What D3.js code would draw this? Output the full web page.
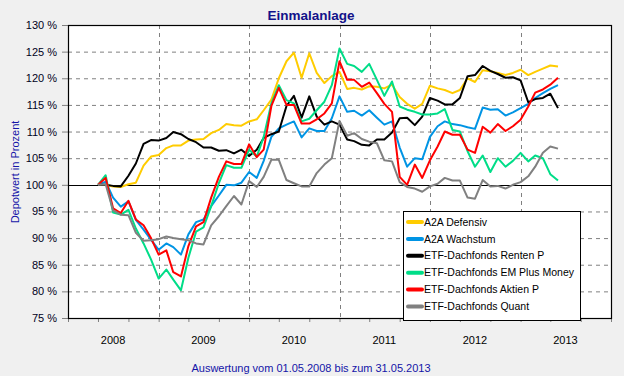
<!DOCTYPE html>
<html>
<head>
<meta charset="utf-8">
<script src="https://cdn.jsdelivr.net/npm/d3@7"></script>
<style>
  body { margin: 0; background: #f0f0f0; }
  svg { display: block; font-family: Arial, "Liberation Sans", sans-serif; }
</style>
</head>
<body>
<svg id="chart" width="624" height="376"></svg>
<script>
// Monatswerte 01.05.2008 ... 31.05.2013 (62 Punkte)
const months = d3.timeMonth.range(new Date(2008, 4, 1), new Date(2013, 5, 2));

const defensiv = [100, 100, 99.7, 99.6, 100.1, 100.4, 103.6, 105.3, 105.6, 106.9, 107.4, 107.4, 108.3, 108.5, 108.6, 109.7,
  110.3, 111.4, 111.2, 111.1, 111.9, 112.3, 114.0, 116.0, 120.0, 123.2, 124.8, 120.1, 124.7, 121.0, 119.1, 120.4,
  121.2, 118.0, 118.2, 117.9, 118.5, 118.4, 118.1, 118.8, 116.5, 115.2, 114.3, 115.2, 118.6, 118.1, 117.8, 117.2,
  117.8, 120.0, 119.3, 121.5, 121.3, 121.0, 120.6, 121.0, 121.6, 120.6, 121.2, 121.8, 122.4, 122.2];
const wachstum = [100, 100.6, 97.6, 95.9, 96.9, 93.4, 91.6, 89.7, 87.8, 89.0, 88.3, 86.9, 90.7, 93.0, 93.5, 96.0,
  98.0, 100.0, 99.9, 100.4, 102.4, 101.3, 104.5, 109.0, 110.6, 111.3, 111.9, 108.9, 110.6, 110.1, 110.1, 112.5,
  116.6, 113.7, 113.9, 113.0, 114.0, 112.6, 111.3, 111.9, 107.0, 103.4, 105.0, 104.8, 109.0, 111.0, 111.9, 111.4,
  111.2, 110.8, 110.5, 114.5, 114.1, 114.2, 113.0, 113.6, 114.4, 115.2, 116.3, 117.2, 118.0, 118.7];
const renten = [100, 100, 99.8, 99.7, 101.7, 104.0, 107.7, 108.4, 108.3, 108.8, 109.9, 109.5, 108.6, 108.0, 107.0, 107.0,
  106.4, 106.5, 105.9, 106.6, 105.4, 106.6, 108.8, 109.5, 110.0, 114.8, 116.7, 112.6, 116.6, 112.8, 111.3, 111.9,
  111.3, 108.5, 108.2, 107.5, 107.4, 108.5, 108.5, 109.8, 112.5, 112.6, 111.2, 112.8, 116.3, 115.8, 115.1, 115.1,
  116.3, 120.4, 120.6, 122.3, 121.4, 120.8, 120.1, 120.2, 119.6, 115.5, 116.1, 116.3, 117.1, 114.4];
const emPlus = [100, 101.8, 94.8, 94.4, 95.3, 91.8, 89.0, 86.0, 82.4, 84.1, 82.2, 80.2, 86.3, 91.2, 92.0, 96.0,
  100.3, 103.7, 103.2, 103.2, 106.6, 105.3, 109.0, 115.3, 118.7, 115.9, 115.3, 111.9, 112.4, 114.0, 115.6, 118.7,
  125.6, 122.7, 122.3, 121.2, 122.7, 119.7, 116.7, 119.4, 114.7, 114.1, 113.7, 113.2, 113.2, 113.4, 114.2, 110.3,
  110.0, 106.3, 103.4, 105.5, 102.4, 105.0, 103.4, 104.5, 106.0, 104.4, 105.5, 105.0, 102.0, 100.8];
const aktien = [100, 101.3, 95.6, 94.7, 97.0, 93.5, 92.4, 90.0, 86.9, 87.7, 83.6, 82.8, 88.5, 92.2, 93.0, 97.6,
  101.5, 104.4, 103.9, 103.9, 107.6, 105.2, 106.6, 114.8, 118.2, 115.0, 115.0, 111.5, 111.5, 112.3, 113.4, 115.3,
  123.2, 119.7, 119.7, 118.4, 119.2, 117.2, 115.2, 113.7, 101.5, 100.0, 103.8, 101.3, 104.6, 107.2, 110.0, 109.4,
  109.4, 106.6, 106.0, 110.9, 109.8, 111.4, 110.1, 111.0, 112.2, 114.7, 117.3, 117.9, 118.8, 120.1];
const quant = [100, 100.1, 95.2, 94.4, 94.3, 91.0, 89.5, 89.6, 89.8, 90.3, 90.0, 89.8, 89.6, 89.0, 88.8, 92.4,
  94.1, 96.0, 97.9, 96.3, 100.7, 99.6, 101.5, 104.7, 104.7, 100.9, 100.3, 99.7, 99.7, 102.2, 103.8, 105.0,
  112.0, 109.2, 109.7, 108.6, 108.1, 107.8, 104.6, 104.4, 100.5, 99.6, 99.3, 98.7, 99.7, 100.2, 101.3, 100.8,
  100.8, 97.6, 97.4, 100.9, 99.7, 99.8, 99.3, 100.0, 100.5, 101.6, 103.4, 106.0, 107.2, 106.8];

const seriesNames = ['A2A Defensiv', 'A2A Wachstum', 'ETF-Dachfonds Renten P',
  'ETF-Dachfonds EM Plus Money', 'ETF-Dachfonds Aktien P', 'ETF-Dachfonds Quant'];
const seriesColors = ['#ffcc00', '#0094e4', '#000000', '#00dd88', '#ff0000', '#808080'];
const seriesValues = [defensiv, wachstum, renten, emPlus, aktien, quant];

const yTicks = [75, 80, 85, 90, 95, 100, 105, 110, 115, 120, 125, 130];
const yearLabels = [2008, 2009, 2010, 2011, 2012, 2013];

const svg = d3.select('#chart');
const plot = { left: 68, right: 611, top: 25, bottom: 318 };

svg.append('rect').attr('width', 624).attr('height', 376).attr('fill', '#f0f0f0');

const x = d3.scaleTime()
  .domain([new Date(2008, 0, 1), new Date(2014, 0, 1)])
  .range([plot.left, plot.right]);
const y = d3.scaleLinear()
  .domain([75, 130])
  .range([plot.bottom, plot.top]);

// Plotfläche
svg.append('rect')
  .attr('x', plot.left).attr('y', plot.top)
  .attr('width', plot.right - plot.left).attr('height', plot.bottom - plot.top)
  .attr('fill', '#ffffff');

// horizontale Gitterlinien + Ticks
const yAxis = d3.axisLeft(y)
  .tickValues(yTicks)
  .tickSize(6)
  .tickPadding(5)
  .tickFormat(d => d + ' %');
const yG = svg.append('g')
  .attr('transform', `translate(${plot.left},0)`)
  .call(yAxis);
yG.select('.domain').remove();
yG.selectAll('.tick line').attr('stroke', '#808080');
yG.selectAll('.tick text')
  .attr('font-size', '11px')
  .attr('font-family', 'Arial, "Liberation Sans", sans-serif')
  .attr('fill', '#000022');

svg.append('g')
  .selectAll('line')
  .data(yTicks.filter(v => v !== 75 && v !== 130 && v !== 100))
  .join('line')
  .attr('x1', plot.left).attr('x2', plot.right)
  .attr('y1', d => y(d) + 0.5).attr('y2', d => y(d) + 0.5)
  .attr('stroke', '#808080')
  .attr('stroke-dasharray', '4,4');

// vertikale Gitterlinien (Jahresgrenzen)
const yearStarts = d3.timeYear.range(new Date(2009, 0, 1), new Date(2013, 0, 2));
svg.append('g')
  .selectAll('line')
  .data(yearStarts)
  .join('line')
  .attr('x1', d => Math.round(x(d)) + 0.5).attr('x2', d => Math.round(x(d)) + 0.5)
  .attr('y1', plot.top).attr('y2', plot.bottom)
  .attr('stroke', '#808080')
  .attr('stroke-dasharray', '4,4');

// 100 %-Linie
svg.append('line')
  .attr('x1', plot.left).attr('x2', plot.right)
  .attr('y1', Math.round(y(100)) + 0.5).attr('y2', Math.round(y(100)) + 0.5)
  .attr('stroke', '#000')
  .attr('stroke-width', 1.2);

// X-Achse: kleine Ticks alle 4 Monate, Jahreszahlen mittig
const xAxis = d3.axisBottom(x)
  .ticks(d3.timeMonth.every(4))
  .tickSize(4)
  .tickFormat('');
const xG = svg.append('g')
  .attr('transform', `translate(0,${plot.bottom})`)
  .call(xAxis);
xG.select('.domain').remove();
xG.selectAll('.tick line').attr('stroke', '#808080');

svg.append('g')
  .selectAll('text')
  .data(yearLabels)
  .join('text')
  .attr('x', d => x(new Date(d, 6, 1)))
  .attr('y', 344)
  .attr('text-anchor', 'middle')
  .attr('font-size', '11px')
  .attr('fill', '#000')
  .text(d => d);

// Linien
const line = d3.line()
  .x((d, i) => x(months[i]))
  .y(d => y(d));

svg.append('g')
  .selectAll('path')
  .data(seriesValues)
  .join('path')
  .attr('fill', 'none')
  .attr('stroke', (d, i) => seriesColors[i])
  .attr('stroke-width', 2)
  .attr('stroke-linejoin', 'round')
  .attr('d', d => line(d));

// Rahmen
svg.append('rect')
  .attr('x', plot.left + 0.5).attr('y', plot.top + 0.5)
  .attr('width', plot.right - plot.left).attr('height', plot.bottom - plot.top)
  .attr('fill', 'none')
  .attr('stroke', '#000')
  .attr('stroke-width', 1.2);

// Legende
const legend = svg.append('g').attr('transform', 'translate(403,211)');
legend.append('rect')
  .attr('x', 0.5).attr('y', 0.5)
  .attr('width', 177).attr('height', 109)
  .attr('fill', '#fff')
  .attr('stroke', '#000');
seriesNames.forEach((name, i) => {
  const cy = 11 + i * 16.9;
  legend.append('line')
    .attr('x1', 5).attr('x2', 19)
    .attr('y1', cy).attr('y2', cy)
    .attr('stroke', seriesColors[i])
    .attr('stroke-width', 4)
    .attr('stroke-linecap', 'round');
  legend.append('text')
    .attr('x', 21)
    .attr('y', cy)
    .attr('dy', '0.35em')
    .attr('font-size', '10.5px')
    .attr('fill', '#000')
    .text(name);
});

// Titel und Beschriftungen
svg.append('text')
  .attr('x', 311).attr('y', 20)
  .attr('text-anchor', 'middle')
  .attr('font-size', '13.5px')
  .attr('font-weight', 'bold')
  .attr('fill', '#12128a')
  .text('Einmalanlage');

svg.append('text')
  .attr('transform', 'translate(19,172) rotate(-90)')
  .attr('text-anchor', 'middle')
  .attr('font-size', '11px')
  .attr('fill', '#1414a8')
  .text('Depotwert in Prozent');

svg.append('text')
  .attr('x', 311).attr('y', 372)
  .attr('text-anchor', 'middle')
  .attr('font-size', '11px')
  .attr('fill', '#1414a8')
  .text('Auswertung vom 01.05.2008 bis zum 31.05.2013');
</script>
</body>
</html>
